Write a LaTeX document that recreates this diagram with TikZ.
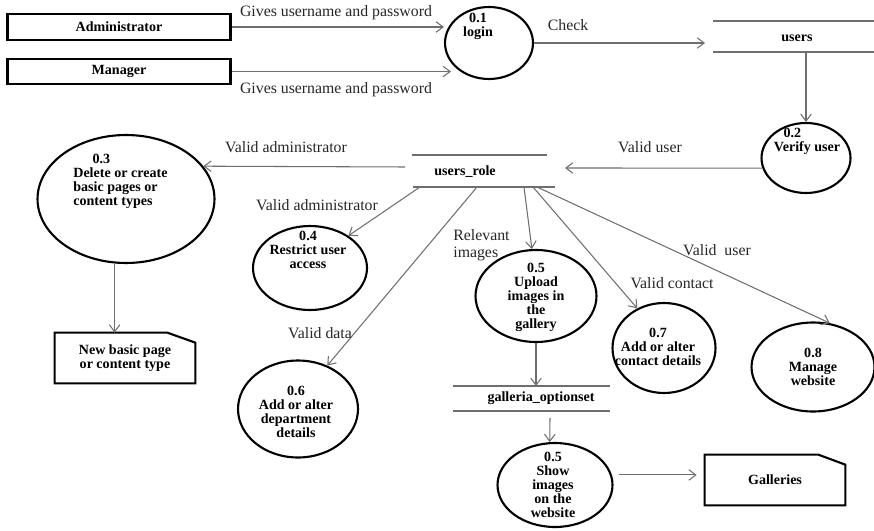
\documentclass[tikz,border=0pt]{standalone}
\usepackage{fontspec}
\setmainfont{Liberation Serif}
\usepackage{tikz}
\usetikzlibrary{calc,shapes.geometric,arrows.meta}
\usepackage{xcolor}
\definecolor{flowgray}{HTML}{6e6e6e}

\begin{document}
\begin{tikzpicture}[x=0.02cm,y=-0.02cm,
        proc/.style 2 args={ellipse,draw,line width=1.2pt,inner sep=0pt,minimum width=#1cm,minimum height=#2cm},
        ptext/.style={font=\bfseries\fontsize{8}{8}\selectfont,align=center,inner sep=0pt},
        entity/.style 2 args={draw,line width=1.2pt,inner sep=0pt,minimum width=#1cm,minimum height=#2cm,font=\bfseries\fontsize{8}{8}\selectfont,align=center},
        docbox/.style 2 args={inner sep=0pt,minimum width=#1cm,minimum height=#2cm,font=\bfseries\fontsize{8}{8}\selectfont,align=center},
        store/.style={font=\bfseries\fontsize{8}{8}\selectfont,inner sep=0pt},
        storeline/.style={flowgray,line width=0.7pt},
        flow/.style={flowgray,line width=0.6pt,-{Straight Barb[length=4pt,width=6pt]}},
        lbl/.style={font=\fontsize{9}{9.5}\selectfont,inner sep=0pt,text=black!85}]
        \useasboundingbox (0,0) rectangle (874,530);
        % external entities
        \node[entity={4.46}{0.52}] (admin) at (119,27) {Administrator};
        \node[entity={4.46}{0.5}] (manager) at (119,71.5) {Manager};
        % processes
        \node[proc={1.76}{1.44}] (p01) at (489,43) {};
        \node[ptext] (p01t) at (478,26) {0.1\\login};
        \node[proc={1.78}{1.4}] (p02) at (806,158) {};
        \node[ptext,align=left] (p02t) at (807,141) {\hspace*{5.5pt}0.2\\Verify user};
        \node[proc={3.54}{2.56}] (p03) at (126,199) {};
        \node[ptext,align=left,anchor=west] (p03t) at (73,181) {\hspace*{11pt}0.3\\Delete or create\\basic pages or\\content types};
        \node[proc={2.28}{1.68}] (p04) at (310,268) {};
        \node[ptext] (p04t) at (308,250) {0.4\\Restrict user\\access};
        \node[proc={2.42}{1.84}] (p05) at (536,296) {};
        \node[ptext] (p05t) at (536,297) {0.5\\Upload\\images in\\the\\gallery};
        \node[proc={2.4}{1.94}] (p06) at (298,409) {};
        \node[ptext] (p06t) at (296,412) {0.6\\Add or alter\\department\\details};
        \node[proc={2.06}{1.8}] (p07) at (664,348) {};
        \node[ptext] (p07t) at (658,347) {0.7\\Add or alter\\contact details};
        \node[proc={2.46}{1.78}] (p08) at (813,367) {};
        \node[ptext] (p08t) at (813,367) {0.8\\Manage\\website};
        \node[proc={2.3}{1.68}] (p09) at (555,485) {};
        \node[ptext] (p09t) at (553,485) {0.5\\Show\\images\\on the\\website};
        % documents
        \node[docbox={2.8}{1.0}] (np) at (125,358) {New basic page\\or content type};
        \draw[line width=1.2pt] (np.north west) -- ($(np.north east)+(-28,0)$) -- ($(np.north east)+(0,10)$) -- (np.south east) -- (np.south west) -- cycle;
        \node[docbox={2.8}{1.0}] (gal) at (775,480) {Galleries};
        \draw[line width=1.2pt] (gal.north west) -- ($(gal.north east)+(-27,0)$) -- ($(gal.north east)+(0,10)$) -- (gal.south east) -- (gal.south west) -- cycle;
        % data stores
        \node[store] (users) at (797,38) {users};
        \draw[storeline] ($(users)+(-84,-17)$) -- ++(161,0) ($(users)+(-84,14)$) -- ++(161,0);
        \node[store] (ur) at (465,172) {users\_role};
        \draw[storeline] ($(ur)+(-53,-17)$) -- ++(135,0) ($(ur)+(-52,15)$) -- ++(142,0);
        \node[store] (go) at (541,398) {galleria\_optionset};
        \draw[storeline] ($(go)+(-88,-12)$) -- ++(157,0) ($(go)+(-88,13)$) -- ++(157,0);
        % flows
        \draw[flow] (admin.east) -- (admin.east -| p01.west);
        \draw[flow] (manager.east) -- ($(manager.east -| p01.west)+(7,0)$);
        \draw[flow] (p01.east) -- ($(users)+(-92,5)$);
        \draw[flow] ($(users)+(9,14)$) -- (p02.north);
        \draw[flow] (p02.193) -- ($(ur)+(100,-4)$);
        \draw[flow] ($(ur)+(-60,-5)$) -- (p03.23);
        \draw[flow] (p03.260) -- (p03.260 |- np.north);
        \draw[flow] ($(ur)+(-45,15)$) -- (p04.40);
        \draw[flow] ($(ur)+(12,15)$) -- (p06.56);
        \draw[flow] ($(ur)+(59,15)$) -- (p05.95);
        \draw[flow] ($(ur)+(68,15)$) -- (p07.124);
        \draw[flow] ($(ur)+(72,15)$) -- (p08.69);
        \draw[flow] (p05.south) -- ($(go)+(-5,-12)$);
        \draw[flow] ($(go)+(9,20)$) -- (p09.97);
        \draw[flow,shorten <=0.14cm,shorten >=0.16cm] (p09.10) -- (p09.10 -| gal.west);
        % flow labels
        \node[lbl] (l1) at (336,13) {Gives username and password};
        \node[lbl] (l2) at (336,90) {Gives username and password};
        \node[lbl] (l3) at (568,25) {Check};
        \node[lbl] (l4) at (650,147) {Valid user};
        \node[lbl] (l5) at (286,147) {Valid administrator};
        \node[lbl] (l6) at (317,205) {Valid administrator};
        \node[lbl] (l7) at (320,333) {Valid data};
        \node[lbl,anchor=west,align=left] (l8) at (453,245) {Relevant\\images};
        \node[lbl] (l9) at (672,283) {Valid contact};
        \node[lbl] (l10) at (717,250) {Valid\ \ user};
    \end{tikzpicture}
\end{document}
